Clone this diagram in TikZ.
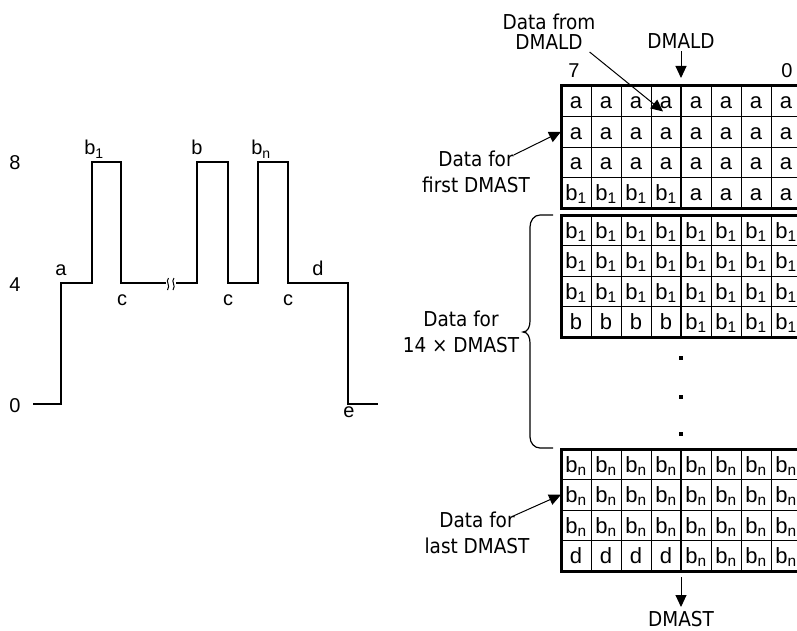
\documentclass[tikz,border=0pt]{standalone}
\usepackage{fontspec}
\setmainfont{Liberation Sans}
\newfontfamily\notefont{DejaVu Sans Condensed}
\usetikzlibrary{positioning, calc, arrows.meta}

\newcommand{\bo}{b\textsubscript{1}}
\newcommand{\bn}{b\textsubscript{n}}

\begin{document}
\begin{tikzpicture}[x=1pt, y=-1pt,
    >={Triangle[length=12pt, width=11pt]},
    wave/.style={line width=1.2pt},
    cell/.style={draw, line width=0.8pt, minimum width=30pt, minimum height=30.5pt,
        inner sep=0pt, outer sep=0pt, text height=15.5pt, text depth=0pt,
        font=\fontsize{22}{24}\selectfont},
    frame/.style={line width=3pt},
    midline/.style={line width=1.8pt},
    tag/.style={font=\fontsize{20}{22}\selectfont, inner sep=0pt},
    note/.style={align=center, inner sep=2pt, font=\notefont\fontsize{20.5}{26}\selectfont},
    arr/.style={->, line width=1pt},
    dot/.style={fill, minimum size=4pt, inner sep=0pt},
    brace/.style={line width=1.2pt}
  ]
  \useasboundingbox (0,0) rectangle (797,631);

  % Waveform
  \draw[wave] (33,404) -- (61,404) -- (61,283) -- (92,283) -- (92,162) -- (121,162)
    -- (121,283) -- (166,283);
  \draw[wave] (176,283) -- (197,283) -- (197,162) -- (228,162) -- (228,283) -- (258,283)
    -- (258,162) -- (288,162) -- (288,283) -- (348,283) -- (348,404) -- (378,404);
  \draw[line width=1pt] (168.5,278) .. controls (165,282) and (171,285) .. (167.5,290);
  \draw[line width=1pt] (174,278) .. controls (170.5,282) and (176.5,285) .. (173,290);

  \node[tag, anchor=base] (lvl8) at (15,170) {8};
  \node[tag, anchor=base] (lvl4) at (15,291) {4};
  \node[tag, anchor=base] (lvl0) at (15,412) {0};
  \node[tag, anchor=base] (wa) at (61,275) {a};
  \node[tag, anchor=base] (wb1) at (94,155) {\bo};
  \node[tag, anchor=base] (wb) at (197,155) {b};
  \node[tag, anchor=base] (wbn) at (261,155) {\bn};
  \node[tag, anchor=base] (wc1) at (122,305) {c};
  \node[tag, anchor=base] (wc2) at (228,305) {c};
  \node[tag, anchor=base] (wc3) at (288,305) {c};
  \node[tag, anchor=base] (wd) at (318,275) {d};
  \node[tag, anchor=base] (we) at (349,417) {e};

  % Memory blocks
  \foreach \blk/\top/\r/\lft/\rgt in {
      A/86/0/a/a, A/86/1/a/a, A/86/2/a/a, A/86/3/\bo/a,
      B/215/0/\bo/\bo, B/215/1/\bo/\bo, B/215/2/\bo/\bo, B/215/3/b/\bo,
      C/449/0/\bn/\bn, C/449/1/\bn/\bn, C/449/2/\bn/\bn, C/449/3/d/\bn} {
    \foreach \c in {0,...,3}
      \node[cell] (\blk-\r-\c) at ({576+30*\c}, {\top+15.25+30.5*\r}) {\lft};
    \foreach \c in {4,...,7}
      \node[cell] (\blk-\r-\c) at ({576+30*\c}, {\top+15.25+30.5*\r}) {\rgt};
  }
  \foreach \blk in {A, B, C} {
    \draw[midline] (\blk-0-3.north east) -- (\blk-3-3.south east);
    \draw[frame] (\blk-0-0.north west) rectangle (\blk-3-7.south east);
  }

  \node[tag, anchor=base] (bit7) at ($(A-0-0.north)+(-2,-8)$) {7};
  \node[tag, anchor=base] (bit0) at ($(A-0-7.north)+(1,-8)$) {0};

  % Labels and arrows
  \node[note] (fromld) at (549,32) {Data from\\[-6pt]DMALD};
  \node[note, anchor=base] (dmald) at (681,49) {DMALD};
  \draw[arr] (dmald.south) -- ($(A-0-3.north east)+(0,-8)$);
  \draw[arr] ([xshift=-8pt]fromld.south east) -- ($(A-0-3.south west)+(12,-5)$);

  \node[note] (first) at (476,172) {Data for\\first DMAST};
  \draw[arr] ([xshift=-18pt,yshift=-6pt]first.north east) -- (A-1-0.west);

  \draw[brace] (553,215) -- (540,215) to[out=180, in=90] (530,227) -- (530,321)
    to[out=270, in=0] (523,332) to[out=0, in=90] (530,343) -- (530,437)
    to[out=270, in=180] (540,448) -- (553,448);
  \node[note] (many) at (461,332) {Data for\\14 × DMAST};

  \node[dot] (dot1) at (681,358) {};
  \node[dot] (dot2) at (681,397) {};
  \node[dot] (dot3) at (681,434) {};

  \node[note] (last) at (477,533) {Data for\\last DMAST};
  \draw[arr] ([xshift=-18pt,yshift=-6pt]last.north east) -- (C-1-0.west);

  \node[note, anchor=base, inner sep=1pt] (dmast) at (681,626) {DMAST};
  \draw[arr] ($(C-3-3.south east)+(0,6)$) -- ($(dmast.base)+(0,-19)$);
\end{tikzpicture}
\end{document}
